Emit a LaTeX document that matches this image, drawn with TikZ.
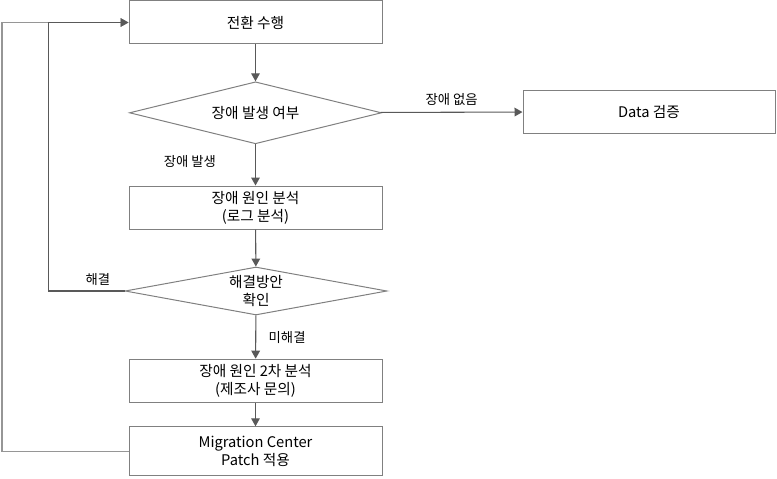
\documentclass[tikz,border=0pt]{standalone}
\usepackage{fontspec}
\setmainfont{Noto Sans CJK KR}
\usetikzlibrary{shapes.geometric,arrows.meta}
\definecolor{boxline}{RGB}{128,128,128}
\definecolor{arrowline}{RGB}{89,89,89}
\definecolor{loopline}{RGB}{150,150,150}
\begin{document}
\begin{tikzpicture}[x=0.75pt,y=-0.75pt,
    box/.style={draw=boxline, line width=0.75pt, minimum width=189.75pt,
      minimum height=32.25pt, inner sep=2pt, align=center,
      font=\fontsize{11pt}{13.5pt}\selectfont},
    decision/.style={diamond, draw=boxline, line width=0.75pt, aspect=5,
      inner sep=0pt, align=center, font=\fontsize{11pt}{13.5pt}\selectfont},
    flow/.style={draw=arrowline, line width=0.8pt,
      -{Triangle[length=6pt,width=6.5pt]}},
    lbl/.style={font=\fontsize{10pt}{12pt}\selectfont, text=black}]
  \useasboundingbox (0,0) rectangle (777,478);
  \node[box] (run) at (255.5,22.5) {전환 수행};
  \node[decision, minimum width=189pt, minimum height=46.5pt] (occur) at (255.5,112.8) {장애 발생 여부};
  \node[box, minimum width=189pt] (verify) at (649,111.7) {Data 검증};
  \node[box] (cause) at (255.5,207.5) {장애 원인 분석\\(로그 분석)};
  \node[decision, minimum width=196.5pt, minimum height=36pt] (solve) at (256,291) {해결방안\\확인};
  \node[box] (vendor) at (255.5,380.7) {장애 원인 2차 분석\\(제조사 문의)};
  \node[box, minimum height=36.75pt] (patch) at (255.5,451.3) {Migration Center\\Patch 적용};
  % outer loop first, so the inner one lies on top
  \draw[flow, draw=loopline] (patch.west) -- ++(-126.5,0) |- (run.west);
  \begin{scope}[flow]
    \draw (run) to (occur);
    \draw (occur) -- node[lbl, midway, above=1pt] {장애 없음} (verify);
    \draw (occur) -- node[lbl, pos=0.42, left=26pt] {장애 발생} (cause);
    \draw (cause) to (solve);
    \draw (solve) -- node[lbl, midway, right=6pt] {미해결} (vendor);
    \draw (vendor) to (patch);
    \draw (solve.west) -- node[lbl, pos=0.35, above] {해결} ++(-76,0) |- (run.west);
  \end{scope}
\end{tikzpicture}
\end{document}
